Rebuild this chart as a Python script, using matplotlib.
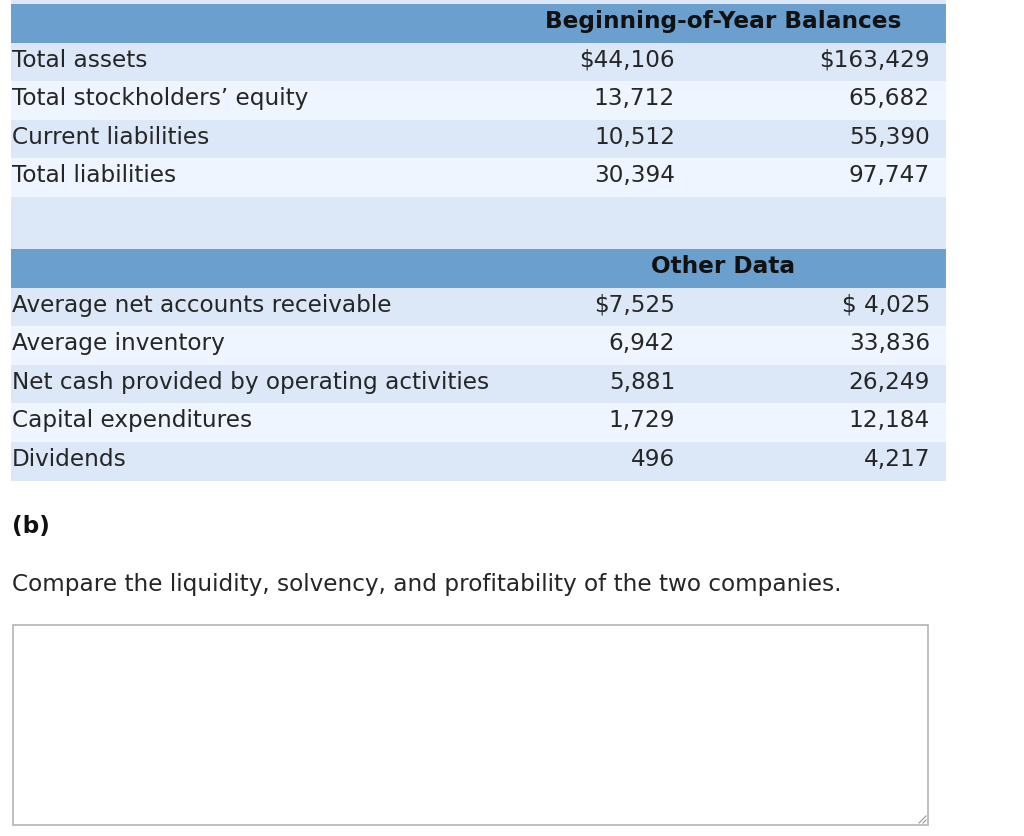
import matplotlib
matplotlib.use('Agg')
import matplotlib.pyplot as plt
from matplotlib.patches import Rectangle

plt.rcParams['font.family'] = ['DejaVu Sans']

# data
balance_header = 'Beginning-of-Year Balances'
balance_labels = ['Total assets', 'Total stockholders\u2019 equity',
                  'Current liabilities', 'Total liabilities']
balance_col1 = ['$44,106', '13,712', '10,512', '30,394']
balance_col2 = ['$163,429', '65,682', '55,390', '97,747']

other_header = 'Other Data'
other_labels = ['Average net accounts receivable', 'Average inventory',
                'Net cash provided by operating activities',
                'Capital expenditures', 'Dividends']
other_col1 = ['$7,525', '6,942', '5,881', '1,729', '496']
other_col2 = ['$ 4,025', '33,836', '26,249', '12,184', '4,217']

part_label = '(b)'
question = 'Compare the liquidity, solvency, and profitability of the two companies.'

HEAD = '#6b9fcd'
DARK = '#dce8f8'
LIGHT = '#eef5fe'
TXT = '#262626'
FS = 16.7

fig = plt.figure(figsize=(10.24, 8.37), dpi=100)
ax = fig.add_axes([0, 0, 1, 1])
ax.set_xlim(0, 1024)
ax.set_ylim(837, 0)
ax.axis('off')

x0, x1 = 11, 946
c1, c2 = 675, 930
hx = 723
rh = 38.6


def band(y, h, color):
    ax.add_patch(Rectangle((x0, y), x1 - x0, h, facecolor=color, edgecolor='none'))


def section(y, header, labels, col1, col2, first_dark=True):
    band(y, rh, HEAD)
    ax.text(hx, y + 23, header, ha='center', va='baseline',
            fontsize=FS, fontweight='bold', color='#111111')
    y += rh
    for i, (lab, a, b) in enumerate(zip(labels, col1, col2)):
        dark = (i % 2 == 0) == first_dark
        band(y, rh, DARK if dark else LIGHT)
        yb = y + 23
        ax.text(12, yb, lab, ha='left', va='baseline', fontsize=FS, color=TXT)
        ax.text(c1, yb, a, ha='right', va='baseline', fontsize=FS, color=TXT)
        ax.text(c2, yb, b, ha='right', va='baseline', fontsize=FS, color=TXT)
        y += rh
    return y


band(0, 5, DARK)
y = section(5, balance_header, balance_labels, balance_col1, balance_col2)
band(y, 250 - y, DARK)
section(250, other_header, other_labels, other_col1, other_col2)

ax.text(12, 533, part_label, ha='left', va='baseline', fontsize=FS,
        fontweight='bold', color='#111111')
ax.text(12, 591, question, ha='left', va='baseline', fontsize=FS, color=TXT)

# answer box
ax.add_patch(Rectangle((12.5, 625.5), 915, 200, facecolor='white',
                       edgecolor='#b4b4b4', linewidth=1.2))
for d in (4, 8):
    ax.plot([927 - d, 927 - 1], [824, 824 - d + 1], color='#999999', lw=0.8)

fig.savefig('out.png', dpi=100)
